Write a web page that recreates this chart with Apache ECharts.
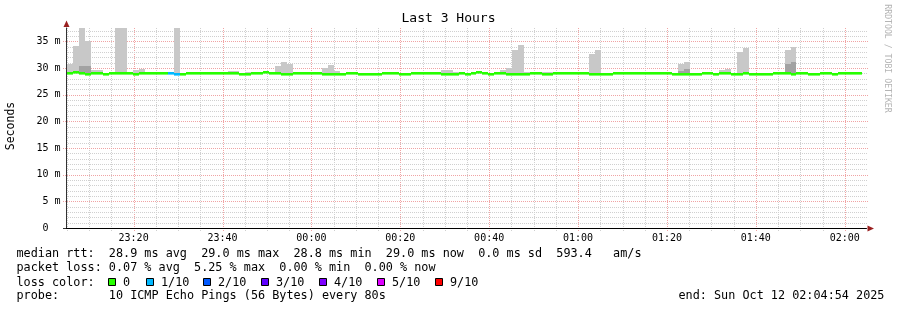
<!DOCTYPE html>
<html><head><meta charset="utf-8">
<script src="https://cdn.jsdelivr.net/npm/echarts@6/dist/echarts.min.js"></script>
<style>html,body{margin:0;padding:0;background:#fff}#c{width:897px;height:310px}</style>
</head><body><div id="c"></div>
<script>
const MONO = "'DejaVu Sans Mono', monospace";

// time is expressed in seconds of day (values past midnight continue above 86400)
const stepStart = 83028;      // start of the first 80 s step shown (partly before view)
const stepSeconds = 80;
const viewStart = 83094;      // 23:04:54
const viewEnd = 93894;        // 02:04:54

// median rtt per step (ms)
const medianMs = [
  28.95, 28.95, 29.15, 28.95, 28.8, 28.95, 28.95, 28.8, 28.95, 28.95, 28.95,
  28.95, 28.8, 28.95, 28.95, 28.95, 28.95, 28.95, 29.0, 28.8, 28.8,
  28.95, 28.95, 28.95, 28.95, 28.95, 28.95, 28.95, 28.95, 28.95, 28.8,
  28.8, 28.95, 28.95, 29.15, 28.95, 28.95, 28.8, 28.8, 28.95, 28.95,
  28.95, 28.95, 28.95, 28.8, 28.8, 28.8, 28.8, 28.95, 28.95, 28.8,
  28.8, 28.8, 28.8, 28.95, 28.95, 28.95, 28.8, 28.8, 28.95, 28.95,
  28.95, 28.95, 28.95, 28.8, 28.8, 28.8, 28.95, 28.8, 28.95, 29.15,
  28.95, 28.8, 28.95, 28.95, 28.8, 28.8, 28.8, 28.8, 28.95, 28.95,
  28.8, 28.8, 28.95, 28.95, 28.95, 28.95, 28.95, 28.95, 28.8, 28.8,
  28.8, 28.8, 28.95, 28.95, 28.95, 28.95, 28.95, 28.95, 28.95, 28.95,
  28.95, 28.95, 28.8, 28.8, 28.8, 28.8, 28.8, 28.95, 28.95, 28.8,
  28.95, 28.95, 28.8, 28.8, 28.95, 28.8, 28.8, 28.8, 28.8, 28.95,
  28.95, 28.95, 28.8, 28.95, 28.95, 28.8, 28.8, 28.95, 28.95, 28.8,
  28.95, 28.95, 28.95, 28.95
];

// highest ping of each step (top of the light smoke), null = no visible smoke
const smokeMaxMs = [
  30.7, 30.7, 34.2, 38, 35.1, 29.7, 29.7, null, null, 38, 38,
  29.3, 29.6, 29.9, null, null, null, null, null, 38, null,
  null, null, null, null, null, null, null, 29.5, 29.5, null,
  29.2, null, null, null, 29.3, 30.3, 31.2, 30.7, 29.3, null,
  null, null, null, 29.95, 30.5, 29.5, null, null, null, null,
  null, null, null, null, null, null, null, null, null, null,
  null, null, null, 29.7, 29.7, 29.3, 29.3, null, null, null,
  null, null, null, 29.7, 29.95, 33.45, 34.25, 29.3, 29.3, null,
  29.3, 29.3, 29.3, null, null, null, null, null, 32.6, 33.3,
  29.15, null, 29.3, null, null, null, null, null, null, null,
  null, null, null, 30.7, 31.1, null, null, null, null, null,
  29.7, 29.9, null, 33.0, 33.8, null, null, null, null, null,
  null, 33.3, 34.0, null, null, null, null, null, null, null,
  29.3, 29.3, null, null
];

// inner (darker) smoke band: step index and its top (ms)
const innerSteps = [3, 4, 104, 105, 122, 123];
const innerTopMs = [30.3, 30.3, 29.5, 29.75, 30.8, 31.2];

// loss level per step (index into lossColors)
const lossLevel = [
  0,0,0,0,0,0,0,0,0,0,0,
  0,0,0,0,0,0,0,1,1,0,
  0,0,0,0,0,0,0,0,0,0,
  0,0,0,0,0,0,0,0,0,0,
  0,0,0,0,0,0,0,0,0,0,
  0,0,0,0,0,0,0,0,0,0,
  0,0,0,0,0,0,0,0,0,0,
  0,0,0,0,0,0,0,0,0,0,
  0,0,0,0,0,0,0,0,0,0,
  0,0,0,0,0,0,0,0,0,0,
  0,0,0,0,0,0,0,0,0,0,
  0,0,0,0,0,0,0,0,0,0,
  0,0,0,0,0,0,0,0,0,0,
  0,0,0,0
];

const lossColors = ['#26ff00', '#00b8ff', '#0059ff', '#5e00ff', '#7e00ff', '#dd00ff', '#ff0000'];
const lossLabels = ['0', '1/10', '2/10', '3/10', '4/10', '5/10', '9/10'];

const timeTicks = [84000, 85200, 86400, 87600, 88800, 90000, 91200, 92400, 93600];
const yTicks = [0, 5, 10, 15, 20, 25, 30, 35];
const yMax = 37.5;

const statsLines = [
  'median rtt:  28.9 ms avg  29.0 ms max  28.8 ms min  29.0 ms now  0.0 ms sd  593.4   am/s',
  'packet loss: 0.07 % avg  5.25 % max  0.00 % min  0.00 % now'
];
const probeLine = 'probe:       10 ICMP Echo Pings (56 Bytes) every 80s';
const endLine = 'end: Sun Oct 12 02:04:54 2025';

// ---------- build series data ----------
const medianData = medianMs.map((m, i) => [stepStart + i * stepSeconds, m, lossLevel[i]]);
const smokeData = [];
smokeMaxMs.forEach((v, i) => { if (v != null) smokeData.push([stepStart + i * stepSeconds, medianMs[i], v]); });
const innerData = innerSteps.map((s, j) => [stepStart + s * stepSeconds, medianMs[s], innerTopMs[j]]);

const vGridData = [];
for (let t = Math.ceil(viewStart / 300) * 300; t < viewEnd; t += 300) {
  vGridData.push([t, 0, t % 1200 === 0 ? 1 : 0]);
}
const hGridData = [];
for (let v = 0; v <= 37; v++) hGridData.push([viewStart, v, v % 5 === 0 ? 1 : 0]);

const MINOR_GRID = '#d0d0d0';
const MAJOR_GRID = '#f0a4a4';

function fmtTime(v) {
  const s = ((v % 86400) + 86400) % 86400;
  const h = Math.floor(s / 3600), m = Math.floor((s % 3600) / 60);
  return String(h).padStart(2, '0') + ':' + String(m).padStart(2, '0');
}

function smokeRenderer(fill) {
  return function (params, api) {
    const t = api.value(0), lo = api.value(1), hi = api.value(2);
    const a = api.coord([t, hi]);
    const b = api.coord([t + stepSeconds, lo]);
    const x0 = Math.round(a[0]), x1 = Math.round(b[0]);
    const y0 = Math.round(a[1]), y1 = Math.round(b[1]);
    return { type: 'rect', shape: { x: x0, y: y0, width: x1 - x0, height: y1 - y0 }, style: { fill: fill } };
  };
}

function medianRenderer(params, api) {
  const t = api.value(0), m = api.value(1), loss = api.value(2);
  const a = api.coord([t, m]);
  const b = api.coord([t + stepSeconds, m]);
  const x0 = Math.round(a[0]), x1 = Math.round(b[0]);
  const y0 = Math.round(a[1] - 1.4);
  return { type: 'rect', shape: { x: x0, y: y0, width: x1 - x0, height: 2.6 }, style: { fill: lossColors[loss] } };
}

function vGridRenderer(params, api) {
  const t = api.value(0), major = api.value(2);
  const top = api.coord([t, yMax]);
  const bot = api.coord([t, 0]);
  const x = Math.round(top[0]) + 0.5;
  return {
    type: 'line',
    shape: { x1: x, y1: Math.round(top[1]), x2: x, y2: Math.round(bot[1]) + (major ? 4 : 3) },
    style: { stroke: major ? MAJOR_GRID : MINOR_GRID, lineWidth: 1, lineDash: [1, 1] }
  };
}

function hGridRenderer(params, api) {
  const v = api.value(1), major = api.value(2);
  const l = api.coord([viewStart, v]);
  const r = api.coord([viewEnd, v]);
  const y = Math.round(l[1]) + 0.5;
  const x0 = Math.round(l[0]);
  if (v === 0) {
    return { type: 'line', shape: { x1: x0 - 4, y1: y, x2: x0, y2: y }, style: { stroke: '#333', lineWidth: 1 } };
  }
  return {
    type: 'line',
    shape: { x1: x0 - (major ? 4 : 1), y1: y, x2: Math.round(r[0]) + 1, y2: y },
    style: { stroke: major ? MAJOR_GRID : MINOR_GRID, lineWidth: 1, lineDash: [1, 1] }
  };
}

const chart = echarts.init(document.getElementById('c'), null, { renderer: 'canvas' });

const graphics = [
  { type: 'text', x: 11, y: 126, rotation: Math.PI / 2,
    style: { text: 'Seconds', font: '11.5px ' + MONO, fill: '#000', align: 'center', verticalAlign: 'middle', textAlign: 'center', textVerticalAlign: 'middle' } },
  { type: 'text', x: 887, y: 58.5, rotation: -Math.PI / 2,
    style: { text: 'RRDTOOL / TOBI OETIKER', font: '8.2px ' + MONO, fill: '#b4b4b4', align: 'center', verticalAlign: 'middle', textAlign: 'center', textVerticalAlign: 'middle' } },
  { type: 'polygon', shape: { points: [[66.5, 20.5], [63.5, 27], [69.5, 27]] }, style: { fill: '#9a2020' } },
  { type: 'polygon', shape: { points: [[874, 228.5], [867.5, 225.5], [867.5, 231.5]] }, style: { fill: '#9a2020' } },
  { type: 'text', x: 16.5, y: 254, style: { text: statsLines[0], font: '11.8px ' + MONO, fill: '#000', verticalAlign: 'middle', textVerticalAlign: 'middle' } },
  { type: 'text', x: 16.5, y: 268, style: { text: statsLines[1], font: '11.8px ' + MONO, fill: '#000', verticalAlign: 'middle', textVerticalAlign: 'middle' } },
  { type: 'text', x: 16.5, y: 282.5, style: { text: 'loss color:', font: '11.8px ' + MONO, fill: '#000', verticalAlign: 'middle', textVerticalAlign: 'middle' } },
  { type: 'text', x: 16.5, y: 296, style: { text: probeLine, font: '11.8px ' + MONO, fill: '#000', verticalAlign: 'middle', textVerticalAlign: 'middle' } },
  { type: 'text', x: 678.5, y: 296, style: { text: endLine, font: '11.8px ' + MONO, fill: '#000', verticalAlign: 'middle', textVerticalAlign: 'middle' } }
];
const boxX = [108, 146, 203, 261, 319, 377, 435];
lossLabels.forEach((lab, i) => {
  graphics.push({ type: 'rect', shape: { x: boxX[i] + 0.5, y: 278.5, width: 7, height: 7 },
    style: { fill: lossColors[i], stroke: '#000', lineWidth: 1 } });
  graphics.push({ type: 'text', x: boxX[i] + 15, y: 282.5,
    style: { text: lab, font: '11.8px ' + MONO, fill: '#000', verticalAlign: 'middle', textVerticalAlign: 'middle' } });
});

chart.setOption({
  animation: false,
  backgroundColor: '#fff',
  title: {
    text: 'Last 3 Hours', left: 'center', top: 12, padding: 0,
    textStyle: { fontFamily: MONO, fontSize: 13, fontWeight: 'normal', color: '#000' }
  },
  grid: { left: 66.5, right: 30.5, top: 28, bottom: 82, containLabel: false, outerBoundsMode: 'none' },
  xAxis: {
    type: 'value', min: viewStart, max: viewEnd, z: 10,
    axisLine: { show: true, lineStyle: { color: '#000', width: 1 } },
    axisTick: { show: false },
    splitLine: { show: false },
    axisLabel: { customValues: timeTicks, formatter: fmtTime, fontFamily: MONO, fontSize: 10, color: '#000', margin: 5 }
  },
  yAxis: {
    type: 'value', min: 0, max: yMax, z: 10,
    axisLine: { show: true, lineStyle: { color: '#333', width: 1 } },
    axisTick: { show: false },
    splitLine: { show: false },
    axisLabel: {
      customValues: yTicks,
      formatter: function (v) { return v === 0 ? '0  ' : (v < 10 ? ' ' : '') + v + ' m'; },
      fontFamily: MONO, fontSize: 10, color: '#000', margin: 6
    }
  },
  graphic: graphics,
  series: [
    { type: 'custom', name: 'vgrid', data: vGridData, encode: { x: 0, y: 1 }, renderItem: vGridRenderer, z: 1, silent: true, clip: false },
    { type: 'custom', name: 'hgrid', data: hGridData, encode: { x: 0, y: 1 }, renderItem: hGridRenderer, z: 1, silent: true, clip: false },
    { type: 'custom', name: 'smoke', data: smokeData, encode: { x: 0, y: [1, 2] }, renderItem: smokeRenderer('#c8c8c8'), z: 2, clip: true, silent: true },
    { type: 'custom', name: 'smoke inner', data: innerData, encode: { x: 0, y: [1, 2] }, renderItem: smokeRenderer('#a2a2a2'), z: 3, clip: true, silent: true },
    { type: 'custom', name: 'median', data: medianData, encode: { x: 0, y: 1 }, renderItem: medianRenderer, z: 4, clip: true, silent: true }
  ]
});
</script></body></html>
